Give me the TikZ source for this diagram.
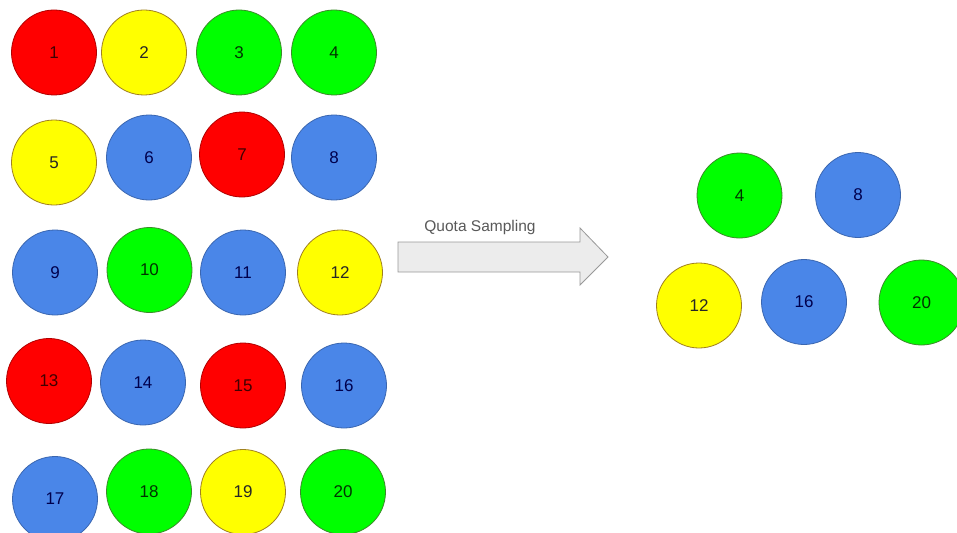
\documentclass[tikz,border=0pt]{standalone}
\usepackage{fontspec}
\setmainfont{Liberation Sans}
\definecolor{cred}{HTML}{FF0000}
\definecolor{cyel}{HTML}{FFFF00}
\definecolor{cgrn}{HTML}{00FF00}
\definecolor{cblu}{HTML}{4A86E8}
\definecolor{bred}{HTML}{B00000}
\definecolor{byel}{HTML}{A08020}
\definecolor{bgrn}{HTML}{3C8A2A}
\definecolor{bblu}{HTML}{3A66B0}
\definecolor{arrowfill}{HTML}{ECECEC}
\definecolor{arrowline}{HTML}{999999}
\tikzset{
  ball/.style={circle, minimum size=85pt, inner sep=0pt, line width=0.8pt,
    font=\fontsize{17}{17}\selectfont},
  rb/.style={ball, fill=cred, draw=bred, text=black!75!red},
  yb/.style={ball, fill=cyel, draw=byel, text=black!85},
  gb/.style={ball, fill=cgrn, draw=bgrn, text=black!80!green},
  bb/.style={ball, fill=cblu, draw=bblu, text=black!70!blue},
  lbl/.style={font=\fontsize{15.5}{15.5}\selectfont, text=black!65, anchor=base},
}
\begin{document}
\begin{tikzpicture}[x=1pt,y=-1pt]
\useasboundingbox (0,0) rectangle (957,532);
\fill[white] (0,0) rectangle (957,532);
% population
\node[rb] (n1) at (54,52.5) {1};
\node[yb] (n2) at (144,52.5) {2};
\node[gb] (n3) at (239,52.5) {3};
\node[gb] (n4) at (334,52.5) {4};
\node[yb] (n5) at (54,162.5) {5};
\node[bb] (n6) at (149,157.5) {6};
\node[rb] (n7) at (242,154.5) {7};
\node[bb] (n8) at (334,157.5) {8};
\node[bb] (n9) at (55,272.5) {9};
\node[gb] (n10) at (149.5,270) {10};
\node[bb] (n11) at (243,272.5) {11};
\node[yb] (n12) at (340,272.5) {12};
\node[rb] (n13) at (49,381) {13};
\node[bb] (n14) at (143,382.5) {14};
\node[rb] (n15) at (243,385.5) {15};
\node[bb] (n16) at (344,385.5) {16};
\node[bb] (n17) at (55,499) {17};
\node[gb] (n18) at (149,491.5) {18};
\node[yb] (n19) at (243,492) {19};
\node[gb] (n20) at (343,492) {20};
% arrow
\draw[fill=arrowfill, draw=arrowline, line width=0.8pt, line join=miter]
  (398,242) -- (580,242) -- (580,228) -- (608,257) -- (580,285) -- (580,272) -- (398,272) -- cycle;
\node[lbl] (ql) at (480,231) {Quota Sampling};
% sample
\node[gb] (s4) at (739.5,195.5) {4};
\node[bb] (s8) at (858,195) {8};
\node[yb] (s12) at (699,305.5) {12};
\node[bb] (s16) at (804,302) {16};
\node[gb] (s20) at (921.5,302.5) {20};
\end{tikzpicture}
\end{document}
